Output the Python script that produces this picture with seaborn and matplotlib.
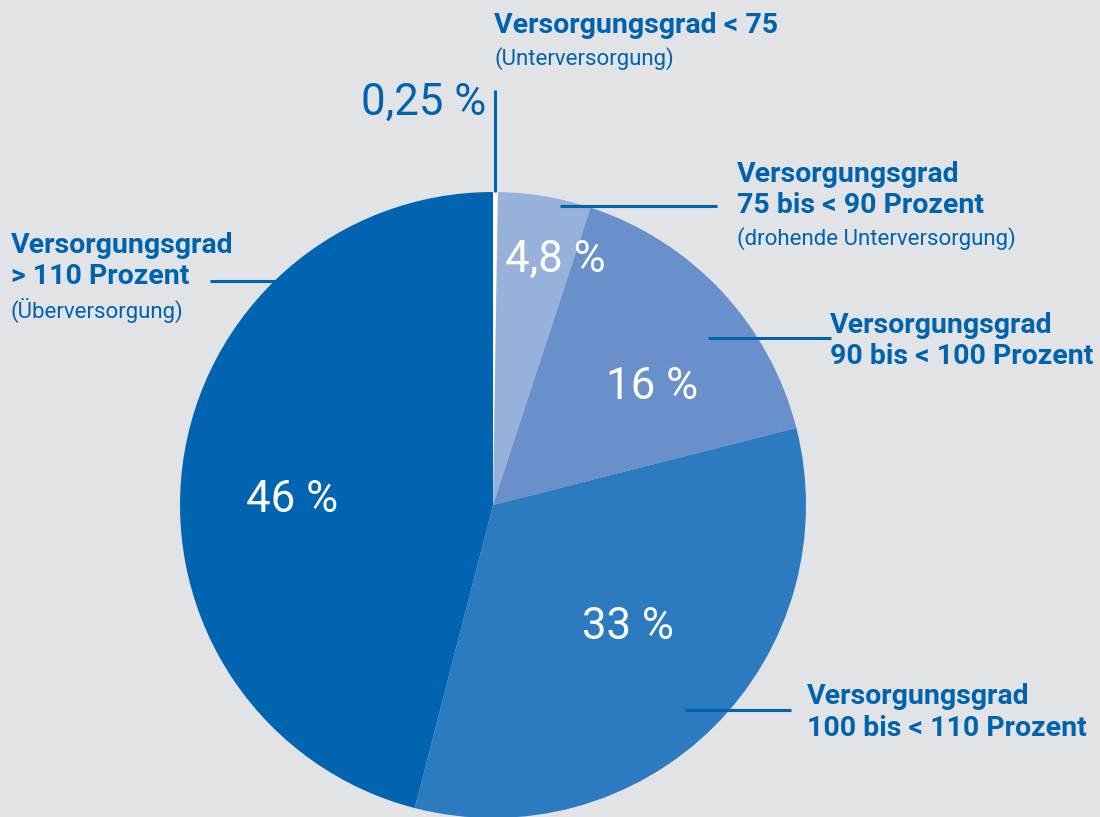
import matplotlib
matplotlib.use("Agg")
import matplotlib.pyplot as plt
import seaborn as sns

# Versorgungsgrad shares, clockwise from 12 o'clock
shares = [0.25, 4.8, 16, 33, 46]
pct_labels = ["0,25 %", "4,8 %", "16 %", "33 %", "46 %"]
colors = ["#ffffff", "#98b1db", "#6a90cb", "#2c7abf", "#0064b1"]
cat_titles = ["Versorgungsgrad < 75",
              "Versorgungsgrad\n75 bis < 90 Prozent",
              "Versorgungsgrad\n90 bis < 100 Prozent",
              "Versorgungsgrad\n100 bis < 110 Prozent",
              "Versorgungsgrad\n> 110 Prozent"]
cat_notes = ["(Unterversorgung)", "(drohende Unterversorgung)", None, None, "(Überversorgung)"]

BG = "#e1e3e6"
BLUE = "#0063ae"
W, H = 1100, 817

sns.set_theme(style="white")
plt.rcParams["font.family"] = ["Roboto", "DejaVu Sans"]

fig = plt.figure(figsize=(11, 8.17), dpi=100, facecolor=BG)
ax = fig.add_axes([0, 0, 1, 1])
ax.set_facecolor(BG)


def Y(py):
    return H - py


cx, cy, r = 493, 505, 313
wedges, _ = ax.pie(shares, colors=sns.color_palette(colors), startangle=90,
                   counterclock=False, center=(cx, Y(cy)), radius=r,
                   wedgeprops=dict(linewidth=0), frame=True)
ax.set_xlim(0, W)
ax.set_ylim(0, H)
ax.set_aspect("equal")
ax.axis("off")

# percent labels
pct_pos = [(486, 103, "right", BLUE), (555, 260, "center", "white"),
           (652, 387, "center", "white"), (628, 627, "center", "white"),
           (292, 500, "center", "white")]
for lab, (px, py, ha, c) in zip(pct_labels, pct_pos):
    ax.text(px, Y(py), lab, ha=ha, va="center", fontsize=31.5, color=c,
            fontweight="normal")

# leader lines
leaders = [((495, 495), (90, 192)), ((560, 717), (206, 206)),
           ((708, 831), (338, 338)), ((685, 791), (710, 710)),
           ((210, 277), (281, 281))]
for xs, ys in leaders:
    ax.plot(xs, [Y(v) for v in ys], color=BLUE, lw=2.2, solid_capstyle="butt")

# category labels: left x and vertical centre of the first line
title_pos = [(494, 25), (737, 174), (830, 325), (807, 697), (11, 245)]
for title, note, (px, py) in zip(cat_titles, cat_notes, title_pos):
    lines = title.split("\n")
    for i, line in enumerate(lines):
        ax.text(px, Y(py + 31 * i), line, ha="left", va="center", fontsize=20.5,
                fontweight="bold", color=BLUE)
    if note:
        ax.text(px, Y(py + 31 * (len(lines) - 1) + 34), note, ha="left",
                va="center", fontsize=16, color=BLUE)

fig.savefig("out.png", dpi=100, facecolor=BG)
